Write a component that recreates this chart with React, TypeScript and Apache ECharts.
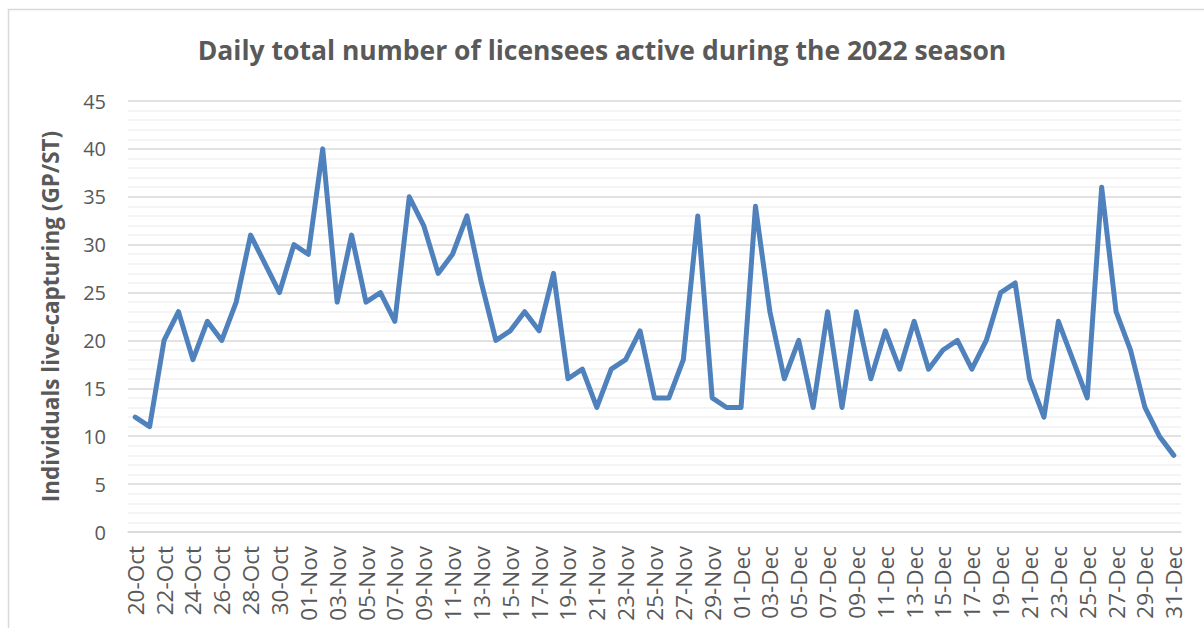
import React, { useEffect, useRef } from "react";
import * as echarts from "echarts";

const octDays = [20, 21, 22, 23, 24, 25, 26, 27, 28, 29, 30, 31];
const novCount = 30;
const decCount = 31;

const octValues = [12, 11, 20, 23, 18, 22, 20, 24, 31, 28, 25, 30];
const novValues = [29, 40, 24, 31, 24, 25, 22, 35, 32, 27, 29, 33, 26, 20, 21, 23, 21, 27, 16, 17, 13, 17, 18, 21, 14, 14, 18, 33, 14, 13];
const decValues = [13, 34, 23, 16, 20, 13, 23, 13, 23, 16, 21, 17, 22, 17, 19, 20, 17, 20, 25, 26, 16, 12, 22, 18, 14, 36, 23, 19, 13, 10, 8];

const pad = (n: number) => (n < 10 ? "0" + n : "" + n);
const categories: string[] = [
  ...octDays.map((d) => pad(d) + "-Oct"),
  ...Array.from({ length: novCount }, (_, i) => pad(i + 1) + "-Nov"),
  ...Array.from({ length: decCount }, (_, i) => pad(i + 1) + "-Dec"),
];
const values: number[] = [...octValues, ...novValues, ...decValues];

const titleText = "Daily total number of licensees active during the 2022 season";
const yAxisName = "Individuals live-capturing (GP/ST)";

const FONT = "'Open Sans', 'Noto Sans', sans-serif";
const TXT = "#595959";

export default function App() {
  const ref = useRef<HTMLDivElement>(null);
  useEffect(() => {
    if (!ref.current) return;
    const chart = echarts.init(ref.current, undefined, { renderer: "svg" });
    chart.setOption({
      animation: false,
      backgroundColor: "#ffffff",
      textStyle: { fontFamily: FONT },
      title: {
        text: titleText,
        left: "center",
        top: 31,
        textStyle: { fontFamily: FONT, fontSize: 26.5, fontWeight: "bold", color: TXT },
      },
      graphic: [
        {
          type: "rect",
          shape: { x: 8.5, y: 9.5, width: 1220, height: 660 },
          style: { fill: "none", stroke: "#d9d9d9", lineWidth: 1.5 },
          silent: true,
          z: -1,
        },
      ],
      grid: { left: 128, right: 23, top: 101, bottom: 96, containLabel: false },
      xAxis: {
        type: "category",
        data: categories,
        boundaryGap: true,
        axisLine: { show: true, lineStyle: { color: "#d9d9d9", width: 1.5 } },
        axisTick: { show: false },
        axisLabel: {
          interval: 1,
          rotate: 90,
          color: TXT,
          fontFamily: FONT,
          fontSize: 22.5,
          margin: 14,
        },
        splitLine: { show: false },
      },
      yAxis: {
        type: "value",
        min: 0,
        max: 45,
        interval: 5,
        name: yAxisName,
        nameLocation: "middle",
        nameGap: 66,
        nameRotate: 90,
        nameTextStyle: { fontFamily: FONT, fontSize: 22.5, fontWeight: "bold", color: TXT },
        axisLine: { show: false },
        axisTick: { show: false },
        axisLabel: { color: TXT, fontFamily: FONT, fontSize: 20, margin: 22 },
        splitLine: { show: true, lineStyle: { color: "#d9d9d9", width: 1.5 } },
        minorTick: { show: false, splitNumber: 5 },
        minorSplitLine: { show: true, lineStyle: { color: "#f0f0f0", width: 1.5 } },
      },
      series: [
        {
          type: "line",
          data: values,
          symbol: "none",
          lineStyle: { color: "#4f81bd", width: 5, cap: "round", join: "round" },
          itemStyle: { color: "#4f81bd" },
        },
      ],
    });
    return () => chart.dispose();
  }, []);
  return (
    <div
      ref={ref}
      style={{ position: "fixed", left: 0, top: 0, width: 1204, height: 628, background: "#fff" }}
    />
  );
}
